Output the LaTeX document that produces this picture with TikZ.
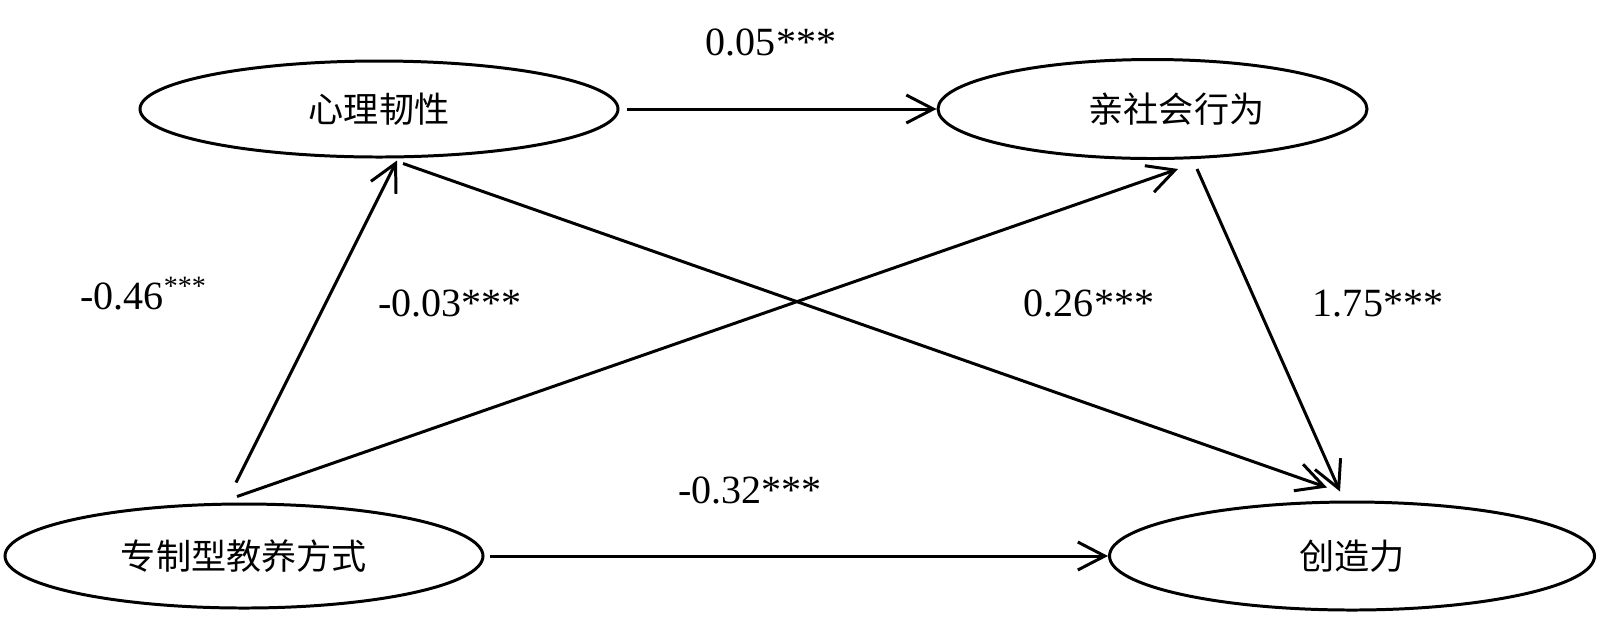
\documentclass[tikz,border=0pt]{standalone}
\usepackage{fontspec}
\setmainfont{Liberation Serif}
\newfontfamily\cjk{Noto Sans CJK SC}
\usetikzlibrary{arrows.meta,positioning,calc,shapes.geometric}
\definecolor{pathblack}{HTML}{000000}
\tikzset{
  >={Straight Barb[length=2.7mm,width=2.8mm]},
  % latente variabler
  lv/.style={ellipse,draw=pathblack,line width=0.85pt,inner sep=0pt,
             font=\cjk\fontsize{10pt}{12pt}\selectfont},
  pe/.style={->,draw=pathblack,line width=0.85pt},
  pl/.style={anchor=base,inner sep=0pt,font=\fontsize{11.4pt}{13pt}\selectfont},
}
\begin{document}
\begin{tikzpicture}
\useasboundingbox (0,0) rectangle (16,6.25);
  \node[lv,minimum width=4.78cm,minimum height=0.96cm] (xl) at (3.79,5.16) {心理韧性};
  \node[lv,minimum width=4.29cm,minimum height=0.99cm] (qs) at (11.525,5.16) {\hspace*{0.48cm}亲社会行为};
  \node[lv,minimum width=4.78cm,minimum height=1.04cm] (zz) at (2.44,0.69) {专制型教养方式};
  \node[lv,minimum width=4.85cm,minimum height=1.08cm] (cz) at (13.52,0.69) {创造力};
  \draw[pe,shorten <=0.07cm] (xl) -- (qs);
  \draw[pe] ([xshift=-0.08cm,yshift=0.2cm]zz.north) -- ([xshift=0.18cm,yshift=-0.02cm]xl.south);
  \draw[pe] ([xshift=-0.07cm,yshift=0.06cm]zz.north) -- ([xshift=0.255cm,yshift=-0.09cm]qs.south);
  \draw[pe] ([xshift=0.24cm,yshift=-0.05cm]xl.south) -- ([xshift=-0.25cm,yshift=0.13cm]cz.north);
  \draw[pe] ([xshift=0.445cm,yshift=-0.09cm]qs.south) -- ([xshift=-0.12cm,yshift=0.09cm]cz.north);
  \draw[pe,shorten <=0.05cm] (zz) -- (cz);
  \node[pl] (l1) at (7.71,5.70) {0.05***};
  \node[pl] (l2) at (1.44,3.16) {-0.46\textsuperscript{***}};
  \node[pl] (l3) at (4.50,3.09) {-0.03***};
  \node[pl] (l4) at (10.89,3.09) {0.26***};
  \node[pl] (l5) at (13.78,3.09) {1.75***};
  \node[pl] (l6) at (7.50,1.22) {-0.32***};
\end{tikzpicture}
\end{document}
